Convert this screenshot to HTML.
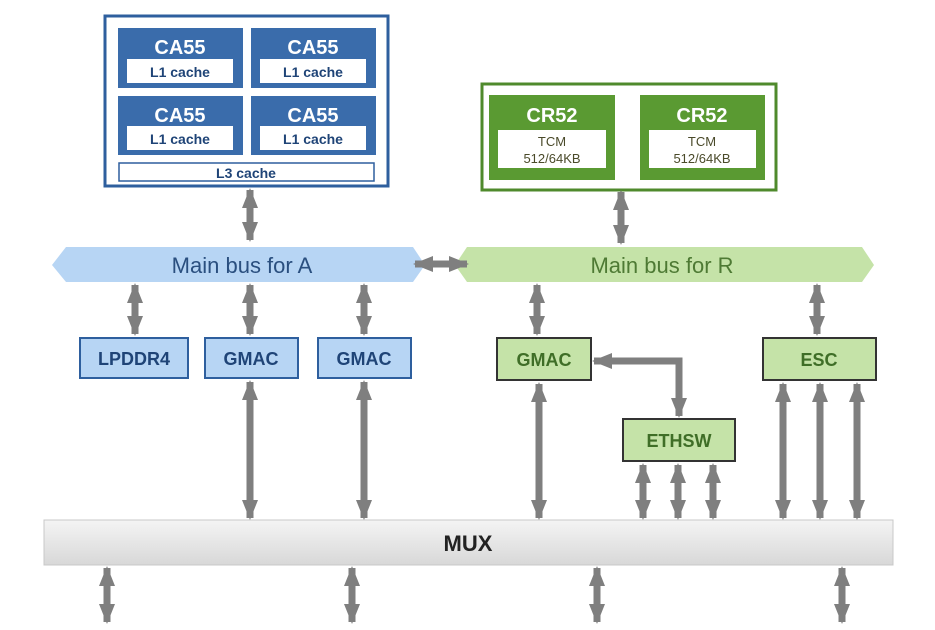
<!DOCTYPE html>
<html><head><meta charset="utf-8"><style>
body{margin:0;background:#fff;}
svg{display:block;font-family:"Liberation Sans",Arial,sans-serif;}
.b{font-weight:bold;}
</style></head><body>
<svg width="935" height="630" viewBox="0 0 935 630">
<defs>
<marker id="ah" viewBox="0 0 20 16" refX="18" refY="8" markerWidth="20" markerHeight="16" markerUnits="userSpaceOnUse" orient="auto-start-reverse">
<path d="M0,0 L20,8 L0,16 Z" fill="#7f7f7f"/></marker>
<linearGradient id="mg" x1="0" y1="0" x2="0" y2="1"><stop offset="0" stop-color="#f4f4f4"/><stop offset="1" stop-color="#d8d8d8"/></linearGradient>
</defs>
<!-- A cluster -->
<rect x="105" y="16" width="283" height="170" fill="#fff" stroke="#2e5f9e" stroke-width="3"/>
<g fill="#3a6cab">
<rect x="118" y="28" width="125" height="60"/><rect x="251" y="28" width="125" height="60"/>
<rect x="118" y="96" width="125" height="59"/><rect x="251" y="96" width="125" height="59"/>
</g>
<g fill="#fff">
<rect x="127" y="59" width="106" height="24"/><rect x="260" y="59" width="106" height="24"/>
<rect x="127" y="126" width="106" height="24"/><rect x="260" y="126" width="106" height="24"/>
</g>
<rect x="119" y="163" width="255" height="18" fill="#fff" stroke="#2e5f9e" stroke-width="1.5"/>
<g class="b" fill="#fff" font-size="20" text-anchor="middle">
<text x="180" y="54">CA55</text><text x="313" y="54">CA55</text>
<text x="180" y="122">CA55</text><text x="313" y="122">CA55</text>
</g>
<g class="b" fill="#1f4477" font-size="14" text-anchor="middle">
<text x="180" y="77">L1 cache</text><text x="313" y="77">L1 cache</text>
<text x="180" y="144">L1 cache</text><text x="313" y="144">L1 cache</text>
<text x="246" y="178">L3 cache</text>
</g>
<!-- R cluster -->
<rect x="482" y="84" width="294" height="106" fill="#fff" stroke="#4f8a2c" stroke-width="3"/>
<rect x="489" y="95" width="126" height="85" fill="#5a9a32"/>
<rect x="640" y="95" width="125" height="85" fill="#5a9a32"/>
<rect x="498" y="130" width="108" height="38" fill="#fff"/>
<rect x="649" y="130" width="107" height="38" fill="#fff"/>
<g class="b" fill="#fff" font-size="20" text-anchor="middle">
<text x="552" y="122">CR52</text><text x="702" y="122">CR52</text>
</g>
<g fill="#4a4a2a" font-size="13" text-anchor="middle">
<text x="552" y="146">TCM</text><text x="702" y="146">TCM</text>
<text x="552" y="163">512/64KB</text><text x="702" y="163">512/64KB</text>
</g>
<!-- buses -->
<polygon points="52,265 66,247 413,247 425,265 413,282 66,282" fill="#b7d5f4"/>
<polygon points="455,265 467,247 862,247 874,265 862,282 467,282" fill="#c5e3a8"/>
<text x="242" y="273" font-size="22" fill="#2a4f7f" text-anchor="middle">Main bus for A</text>
<text x="662" y="273" font-size="22" fill="#4e7a34" text-anchor="middle">Main bus for R</text>
<!-- A boxes -->
<g fill="#b7d5f4" stroke="#2e5f9e" stroke-width="2">
<rect x="80" y="338" width="108" height="40"/><rect x="205" y="338" width="93" height="40"/><rect x="318" y="338" width="93" height="40"/>
</g>
<g class="b" fill="#1f4477" font-size="18" text-anchor="middle">
<text x="134" y="365">LPDDR4</text><text x="251" y="365">GMAC</text><text x="364" y="365">GMAC</text>
</g>
<!-- R boxes -->
<g fill="#c5e3a8" stroke="#333" stroke-width="2">
<rect x="497" y="338" width="94" height="42"/><rect x="623" y="419" width="112" height="42"/><rect x="763" y="338" width="113" height="42"/>
</g>
<g class="b" fill="#3f6e27" font-size="18" text-anchor="middle">
<text x="544" y="366">GMAC</text><text x="679" y="447">ETHSW</text><text x="819" y="366">ESC</text>
</g>
<!-- MUX -->
<rect x="44" y="520" width="849" height="45" fill="url(#mg)" stroke="#c8c8c8"/>
<text x="468" y="551" class="b" font-size="22" fill="#222" text-anchor="middle">MUX</text>
<!-- arrows -->
<g stroke="#7f7f7f" stroke-width="7" marker-start="url(#ah)" marker-end="url(#ah)" fill="none">
<line x1="250" y1="190" x2="250" y2="240"/>
<line x1="621" y1="192" x2="621" y2="243"/>
<line x1="415" y1="264" x2="467" y2="264"/>
<line x1="135" y1="285" x2="135" y2="334"/>
<line x1="250" y1="285" x2="250" y2="334"/>
<line x1="364" y1="285" x2="364" y2="334"/>
<line x1="537" y1="285" x2="537" y2="334"/>
<line x1="817" y1="285" x2="817" y2="334"/>
<line x1="250" y1="382" x2="250" y2="518"/>
<line x1="364" y1="382" x2="364" y2="518"/>
<line x1="539" y1="384" x2="539" y2="518"/>
<line x1="643" y1="465" x2="643" y2="518"/>
<line x1="678" y1="465" x2="678" y2="518"/>
<line x1="713" y1="465" x2="713" y2="518"/>
<line x1="783" y1="384" x2="783" y2="518"/>
<line x1="820" y1="384" x2="820" y2="518"/>
<line x1="857" y1="384" x2="857" y2="518"/>
<polyline points="594,361 679,361 679,416"/>
<line x1="107" y1="568" x2="107" y2="622"/>
<line x1="352" y1="568" x2="352" y2="622"/>
<line x1="597" y1="568" x2="597" y2="622"/>
<line x1="842" y1="568" x2="842" y2="622"/>
</g>
</svg>
</body></html>
